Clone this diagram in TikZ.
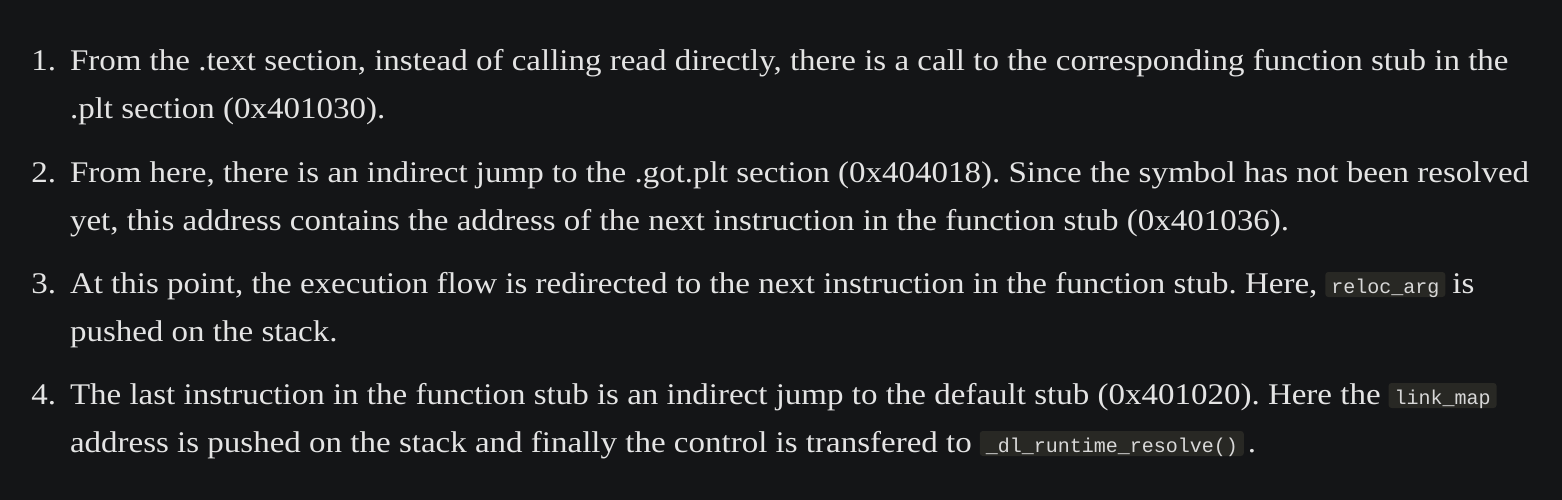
\documentclass[tikz,border=0pt]{standalone}
\usepackage{fontspec}
\setmainfont{Liberation Serif}[FakeStretch=1.10]
\setmonofont{Liberation Mono}
\definecolor{bgc}{HTML}{141517}
\definecolor{txc}{HTML}{E4E4E4}
\definecolor{codebg}{HTML}{282824}
\definecolor{codetx}{HTML}{D8D8D8}
\begin{document}
\frenchspacing
\begin{tikzpicture}[x=1pt,y=-1pt,
  txt/.style={inner sep=0pt,outer sep=0pt,anchor=base west,text=txc,font=\fontsize{30}{36}\selectfont},
  num/.style={inner sep=0pt,outer sep=0pt,anchor=base east,text=txc,font=\fontsize{30}{36}\selectfont},
  code/.style={inner xsep=6pt,inner ysep=4pt,outer sep=0pt,anchor=base west,fill=codebg,rounded corners=3pt,text=codetx,font=\ttfamily\fontsize{20}{22}\selectfont,text depth=0pt,text height=17pt}]
\fill[bgc] (0,0) rectangle (1562,500);
\useasboundingbox (0,0) rectangle (1562,500);
% item 1
\node[num] (n1) at (56,71) {1.};
\node[txt] (l1a) at (70,71) {From the .text section, instead of calling read directly, there is a call to the corresponding function stub in the};
\node[txt] (l1b) at (70,119) {.plt section (0x401030).};
% item 2
\node[num] (n2) at (56,182) {2.};
\node[txt] (l2a) at (70,182) {From here, there is an indirect jump to the .got.plt section (0x404018). Since the symbol has not been resolved};
\node[txt] (l2b) at (70,230) {yet, this address contains the address of the next instruction in the function stub (0x401036).};
% item 3
\node[num] (n3) at (56,293) {3.};
\node[txt] (l3a) at (70,293) {At this point, the execution flow is redirected to the next instruction in the function stub. Here,};
\node[code] (c1) at ([xshift=8pt]l3a.base east) {reloc\_arg};
\node[txt] (l3c) at ([xshift=7pt]c1.base east) {is};
\node[txt] (l3b) at (70,341) {pushed on the stack.};
% item 4
\node[num] (n4) at (56,404) {4.};
\node[txt] (l4a) at (70,404) {The last instruction in the function stub is an indirect jump to the default stub (0x401020). Here the};
\node[code] (c2) at ([xshift=8pt]l4a.base east) {link\_map};
\node[txt] (l4b) at (70,452) {address is pushed on the stack and finally the control is transfered to};
\node[code] (c3) at ([xshift=8pt]l4b.base east) {\_dl\_runtime\_resolve()};
\node[txt] (l4c) at ([xshift=4pt]c3.base east) {.};
\end{tikzpicture}
\end{document}
